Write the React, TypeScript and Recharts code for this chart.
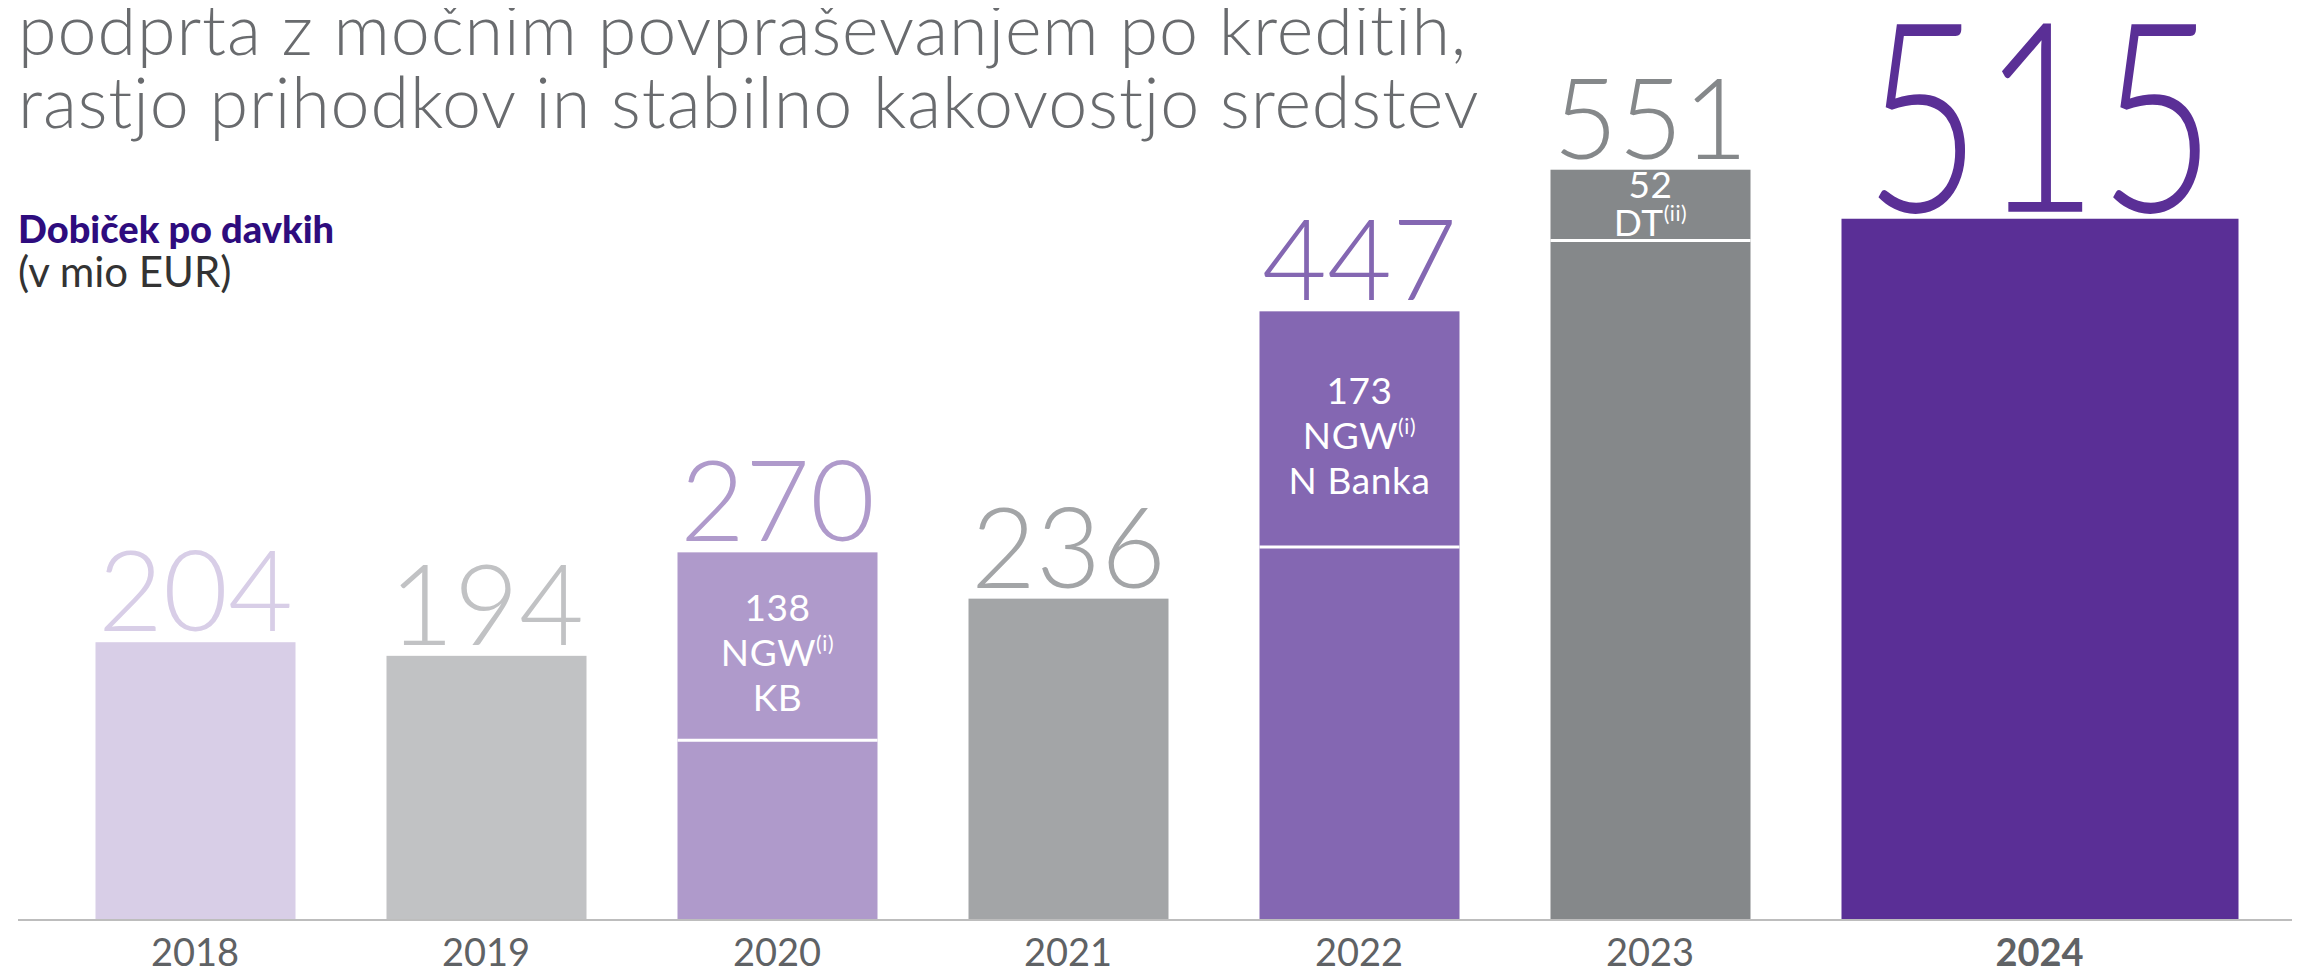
import { BarChart, Bar, XAxis, YAxis, LabelList } from 'recharts';

type NoteLine = { text: string; sup?: string };

const years = ['2018', '2019', '2020', '2021', '2022', '2023', '2024'];
// dobiček po davkih, v mio EUR
const profit = [204, 194, 270, 236, 447, 551, 515];
// enkratni učinki, prikazani v zgornjem delu stolpca
const oneOff = [0, 0, 138, 0, 173, 52, 0];
const oneOffNotes: NoteLine[][] = [
  [],
  [],
  [{ text: '138' }, { text: 'NGW', sup: '(i)' }, { text: 'KB' }],
  [],
  [{ text: '173' }, { text: 'NGW', sup: '(i)' }, { text: 'N Banka' }],
  [{ text: '52' }, { text: 'DT', sup: '(ii)' }],
  [],
];
const barColors = ['#D8CEE7', '#C1C2C4', '#AF9ACB', '#A3A5A7', '#8467B2', '#85888A', '#5A2F96'];
const highlightYear = '2024';
const titleLines = [
  'podprta z močnim povpraševanjem po kreditih,',
  'rastjo prihodkov in stabilno kakovostjo sredstev',
];

const BAR_W = 200;
const FONT = 'Lato, "Open Sans", sans-serif';

const chartData = years.map((year, i) => ({
  year,
  base: profit[i] - oneOff[i],
  extra: oneOff[i],
}));

function yearOf(props: any): string {
  return props.payload?.year ?? props.year;
}

function wideWidth(year: string, width: number) {
  return year === highlightYear ? width * 2 - 3 : width;
}

function BaseShape(props: any) {
  const { x, y, width, height } = props;
  const year = yearOf(props);
  const color = barColors[years.indexOf(year)];
  return <rect x={x} y={y} width={wideWidth(year, width)} height={Math.max(height, 0)} fill={color} />;
}

function ExtraShape(props: any) {
  const { x, y, width, height } = props;
  if (!height || height <= 0) return null;
  const year = yearOf(props);
  const color = barColors[years.indexOf(year)];
  return (
    <g>
      <rect x={x} y={y} width={width} height={height} fill={color} />
      <line x1={x} x2={x + width} y1={y + height} y2={y + height} stroke="#fff" strokeWidth={3} />
    </g>
  );
}

function box(props: any) {
  const vb = props.viewBox ?? {};
  return {
    x: props.x ?? vb.x,
    y: props.y ?? vb.y,
    width: props.width ?? vb.width,
    height: props.height ?? vb.height,
  };
}

function ValueLabel(props: any) {
  const { x, y, width } = box(props);
  const i = years.indexOf(props.value);
  if (i < 0) return null;
  const color = barColors[i];
  if (props.value === highlightYear) {
    const w = wideWidth(props.value, width);
    return (
      <text
        x={x + w / 2}
        y={y - 7}
        textAnchor="middle"
        fill={color}
        fontFamily={FONT}
        fontWeight={300}
        fontSize={265}
        textLength={352}
        lengthAdjust="spacingAndGlyphs"
      >
        {profit[i]}
      </text>
    );
  }
  return (
    <text x={x + width / 2} y={y - 11} textAnchor="middle" fill={color} fontFamily={FONT} fontWeight={300} fontSize={112}>
      {profit[i]}
    </text>
  );
}

function NoteLabel(props: any) {
  const { x, y, width, height } = box(props);
  const i = years.indexOf(props.value);
  const lines = i >= 0 ? oneOffNotes[i] : [];
  if (!lines.length) return null;
  const short = lines.length < 3;
  const gap = short ? 38 : 45;
  const mid = y + height / 2 + (short ? -1 : 7);
  const first = mid - ((lines.length - 1) * gap) / 2;
  const cx = x + width / 2;
  return (
    <text textAnchor="middle" fill="#fff" fontFamily={FONT} fontSize={37} letterSpacing={0.6}>
      {lines.map((ln, k) => [
        <tspan key={`t${k}`} x={cx} y={first + k * gap + 13}>
          {ln.text}
        </tspan>,
        ln.sup ? (
          <tspan key={`s${k}`} fontSize={21} dy={-15}>
            {ln.sup}
          </tspan>
        ) : null,
      ])}
    </text>
  );
}

function YearTick({ x, y, payload }: any) {
  const hi = payload.value === highlightYear;
  return (
    <text
      x={x + (hi ? (BAR_W - 3) / 2 : 0)}
      y={y + 46}
      textAnchor="middle"
      fill="#5F6265"
      fontFamily={FONT}
      fontWeight={hi ? 700 : 400}
      fontSize={38}
    >
      {payload.value}
    </text>
  );
}

export default function App() {
  return (
    <div style={{ position: 'relative', width: 2292, height: 963, fontFamily: FONT }}>
      <BarChart
        width={2292}
        height={963}
        data={chartData}
        margin={{ top: 95, right: 0, left: 10, bottom: 0 }}
        barSize={BAR_W}
      >
        <XAxis
          dataKey="year"
          height={51}
          interval={0}
          padding={{ left: 31.5, right: 213.5 }}
          axisLine={{ stroke: '#BDBDBD', strokeWidth: 2 }}
          tickLine={false}
          tickSize={0}
          tickMargin={0}
          tick={<YearTick />}
        />
        <YAxis hide domain={[0, 600]} />
        <Bar dataKey="base" stackId="p" isAnimationActive={false} shape={<BaseShape />} />
        <Bar dataKey="extra" stackId="p" isAnimationActive={false} shape={<ExtraShape />}>
          <LabelList dataKey="year" content={<ValueLabel />} />
          <LabelList dataKey="year" content={<NoteLabel />} />
        </Bar>
      </BarChart>

      {titleLines.map((line, k) => (
        <div
          key={line}
          style={{
            position: 'absolute',
            left: 10,
            top: -15 + k * 73,
            fontSize: 70,
            lineHeight: '70px',
            letterSpacing: 0.9,
            fontWeight: 300,
            color: '#696B6E',
            whiteSpace: 'nowrap',
          }}
        >
          {line}
        </div>
      ))}
      <div
        style={{
          position: 'absolute',
          left: 10,
          top: 201,
          fontSize: 38,
          lineHeight: '38px',
          fontWeight: 900,
          color: '#2E0C7E',
          whiteSpace: 'nowrap',
        }}
      >
        Dobiček po davkih
      </div>
      <div
        style={{
          position: 'absolute',
          left: 10,
          top: 242,
          fontSize: 42,
          lineHeight: '42px',
          color: '#333333',
          whiteSpace: 'nowrap',
        }}
      >
        (v mio EUR)
      </div>
    </div>
  );
}
